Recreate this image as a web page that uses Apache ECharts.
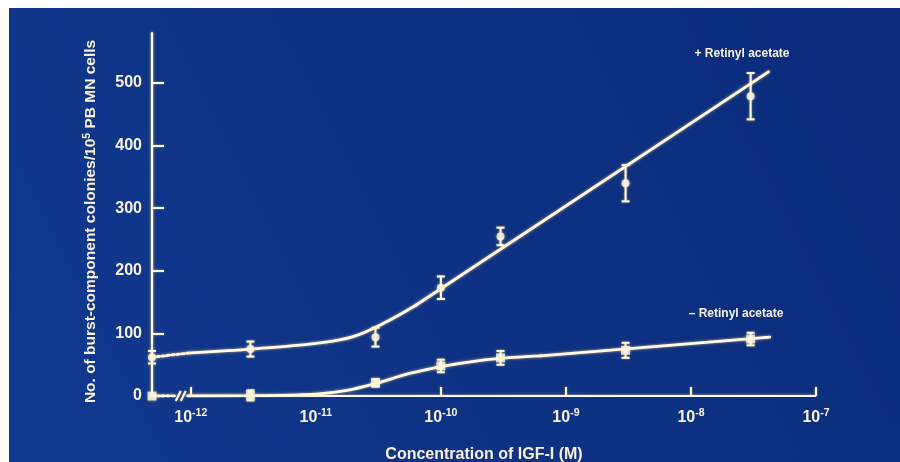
<!DOCTYPE html>
<html>
<head>
<meta charset="utf-8">
<script src="https://cdn.jsdelivr.net/npm/echarts@6/dist/echarts.min.js"></script>
<style>
  html, body { margin: 0; padding: 0; background: #ffffff; }
  #chart { width: 900px; height: 462px; }
</style>
</head>
<body>
<div id="chart"></div>
<script>
// ---- Data (concentration in M; 0 = no IGF-I, drawn at the axis break) ----
const concentrations = [0, 3e-12, 3e-11, 1e-10, 3e-10, 3e-9, 3e-8];
const plusRetinylMean = [62, 75, 94, 173, 255, 340, 479];
const plusRetinylErr  = [10, 12, 15, 18, 14, 29, 37];
const minusRetinylMean = [0, 1, 21, 48, 61, 73, 91];
const minusRetinylErr  = [0, 8, 6, 10, 11, 12, 10];

// Hand-drawn fitted curves: [log10(conc), colonies]
const plusFitDotted  = [[-12.31, 62], [-12.0, 69]];
const plusFitCurve = [[-12.0, 69], [-11.52, 75], [-11.0, 84], [-10.7, 95], [-10.45, 117], [-10.2, 145]];
const plusFitStraight = [[-10.2, 145], [-7.38, 518]];
const minusFitDotted = [[-12.31, 0], [-12.12, 0]];
const minusFitCurve = [[-12.025, 0], [-11.52, 0.5], [-11.0, 3], [-10.75, 9], [-10.52, 20],
                       [-10.25, 36], [-10.0, 47], [-9.75, 55], [-9.52, 60], [-9.2, 64]];
const minusFitStraight = [[-9.2, 64], [-7.37, 94]];

// Axis description
const zeroConcPosition = -12.31;          // where "no IGF-I" sits (on the y axis)
const xAxisSpan = [[-12.025, 0], [-7, 0]]; // solid part of the x axis after the break
const axisBreakAt = [[-12.072, 0]];
const xTickExponents = [-12, -10, -9, -8, -7];
const xLabelExponents = [-12, -11, -10, -9, -8, -7];
const yTicks = [0, 100, 200, 300, 400, 500];
const xName = 'Concentration of IGF-I (M)';
const yNameParts = ['No. of burst-component colonies/10', '5', ' PB MN cells'];
const plusLabel = '+ Retinyl acetate';
const minusLabel = '\u2013 Retinyl acetate';

// ---- Build ----
const toX = c => c === 0 ? zeroConcPosition : Math.log10(c);
const plusPts  = concentrations.map((c, i) => [toX(c), plusRetinylMean[i], plusRetinylErr[i]]);
const minusPts = concentrations.map((c, i) => [toX(c), minusRetinylMean[i], minusRetinylErr[i]]);

const INK = '#fffbea';
const TEXT = '#fbf2da';
const GLOW = 'rgba(255, 205, 110, 0.75)';
const FONT = '"Liberation Sans", Arial, Helvetica, sans-serif';

const lineStyle = (type) => ({ color: INK, width: 2.8, type: type || 'solid',
  shadowBlur: 3, shadowColor: GLOW, cap: 'round' });

function errorBarItem(params, api) {
  const x = api.value(0), y = api.value(1), e = api.value(2);
  if (!e) return null;
  const top = api.coord([x, y + e]);
  const bot = api.coord([x, y - e]);
  const cap = 4;
  const st = { stroke: INK, lineWidth: 2, shadowBlur: 2, shadowColor: GLOW };
  return { type: 'group', children: [
    { type: 'line', shape: { x1: top[0], y1: top[1], x2: bot[0], y2: bot[1] }, style: st },
    { type: 'line', shape: { x1: top[0] - cap, y1: top[1], x2: top[0] + cap, y2: top[1] }, style: st },
    { type: 'line', shape: { x1: bot[0] - cap, y1: bot[1], x2: bot[0] + cap, y2: bot[1] }, style: st }
  ]};
}

function breakItem(params, api) {
  const p = api.coord([api.value(0), api.value(1)]);
  const st = { stroke: INK, lineWidth: 2, shadowBlur: 2, shadowColor: GLOW };
  return { type: 'group', children: [
    { type: 'line', shape: { x1: p[0] - 6, y1: p[1] + 5, x2: p[0] - 1, y2: p[1] - 5 }, style: st },
    { type: 'line', shape: { x1: p[0] - 1, y1: p[1] + 5, x2: p[0] + 4, y2: p[1] - 5 }, style: st }
  ]};
}

const chart = echarts.init(document.getElementById('chart'), null, { renderer: 'canvas' });

const fitSeries = (name, data, smooth, type) => ({
  name, type: 'line', data, symbol: 'none', silent: true, smooth: smooth,
  lineStyle: lineStyle(type), z: 3
});

chart.setOption({
  backgroundColor: '#ffffff',
  animation: false,
  textStyle: { fontFamily: FONT },
  graphic: [
    { type: 'rect', z: -10, silent: true,
      shape: { x: 9, y: 8, width: 891, height: 454 },
      style: { fill: new echarts.graphic.LinearGradient(0, 1, 1, 0, [
        { offset: 0, color: '#10398e' }, { offset: 1, color: '#0b2b7a' }]) } },
    { type: 'text', x: 742, y: 54, z: 10, silent: true,
      style: { text: plusLabel, fill: TEXT, font: 'bold 12px ' + FONT,
               align: 'center', verticalAlign: 'middle' } },
    { type: 'text', x: 736, y: 314, z: 10, silent: true,
      style: { text: minusLabel, fill: TEXT, font: 'bold 12px ' + FONT,
               align: 'center', verticalAlign: 'middle' } }
  ],
  grid: { left: 152, right: 84, top: 33, bottom: 66, containLabel: false, outerBoundsMode: 'none' },
  xAxis: {
    type: 'value', min: -12.31, max: -7,
    name: xName, nameLocation: 'middle', nameGap: 51,
    nameTextStyle: { color: TEXT, fontSize: 16, fontWeight: 'bold', fontFamily: FONT },
    axisLine: { show: false },
    splitLine: { show: false },
    axisTick: { show: true, inside: true, length: 9, customValues: xTickExponents,
                lineStyle: { color: INK, width: 2, shadowBlur: 2, shadowColor: GLOW } },
    axisLabel: {
      customValues: xLabelExponents, margin: 12,
      formatter: v => '{b|10}{s|' + Math.round(v) + '}',
      rich: {
        b: { color: TEXT, fontSize: 16, fontWeight: 'bold', fontFamily: FONT, lineHeight: 20 },
        s: { color: TEXT, fontSize: 10.5, fontWeight: 'bold', fontFamily: FONT, lineHeight: 12,
             verticalAlign: 'top' }
      }
    }
  },
  yAxis: {
    type: 'value', min: 0, max: 580,
    name: '{a|' + yNameParts[0] + '}{s|' + yNameParts[1] + '}{a|' + yNameParts[2] + '}',
    nameLocation: 'middle', nameGap: 52, nameRotate: 90,
    nameTextStyle: {
      padding: [0, 14, 0, 0],
      rich: {
        a: { color: TEXT, fontSize: 15.5, fontWeight: 'bold', fontFamily: FONT, lineHeight: 18 },
        s: { color: TEXT, fontSize: 10.5, fontWeight: 'bold', fontFamily: FONT, lineHeight: 10,
             verticalAlign: 'top' }
      }
    },
    axisLine: { show: true, lineStyle: { color: INK, width: 2.2, shadowBlur: 3, shadowColor: GLOW } },
    splitLine: { show: false },
    axisTick: { show: true, inside: true, length: 12, customValues: yTicks,
                lineStyle: { color: INK, width: 2, shadowBlur: 2, shadowColor: GLOW } },
    axisLabel: { customValues: yTicks, margin: 10, color: TEXT, fontSize: 16,
                 fontWeight: 'bold', fontFamily: FONT }
  },
  series: [
    { name: 'x axis', type: 'line', data: xAxisSpan, symbol: 'none', silent: true,
      lineStyle: { color: INK, width: 2.2, shadowBlur: 3, shadowColor: GLOW }, z: 3 },
    { name: 'axis break', type: 'custom', data: axisBreakAt, renderItem: breakItem, silent: true, z: 4 },
    fitSeries('+ fit (dotted)', plusFitDotted, false, [2.5, 2.5]),
    fitSeries('+ fit curve', plusFitCurve, 0.4),
    fitSeries('+ fit line', plusFitStraight, false),
    fitSeries('- fit (dotted)', minusFitDotted, false, [2.5, 2.5]),
    fitSeries('- fit curve', minusFitCurve, 0.4),
    fitSeries('- fit line', minusFitStraight, false),
    { name: '+ error', type: 'custom', data: plusPts, renderItem: errorBarItem, z: 5,
      encode: { x: 0, y: 1 } },
    { name: '- error', type: 'custom', data: minusPts, renderItem: errorBarItem, z: 5,
      encode: { x: 0, y: 1 } },
    { name: '+ Retinyl acetate', type: 'scatter', data: plusPts, symbol: 'circle', symbolSize: 8,
      itemStyle: { color: INK, shadowBlur: 3, shadowColor: GLOW }, z: 6 },
    { name: '- Retinyl acetate', type: 'scatter', data: minusPts, symbol: 'rect', symbolSize: 9,
      itemStyle: { color: INK, shadowBlur: 3, shadowColor: GLOW }, z: 6 }
  ]
});
</script>
</body>
</html>
